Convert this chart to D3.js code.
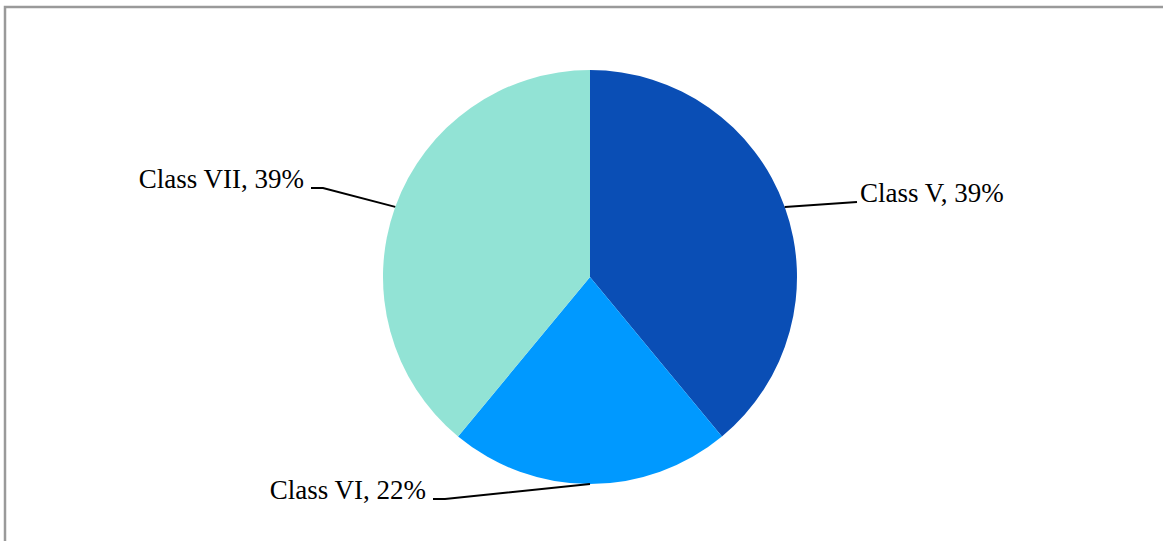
<!DOCTYPE html>
<html>
<head>
<meta charset="utf-8">
<script src="https://cdn.jsdelivr.net/npm/d3@7"></script>
<style>
  html, body { margin: 0; padding: 0; background: #fff; }
  svg { display: block; }
</style>
</head>
<body>
<svg id="chart" width="1163" height="541"></svg>
<script>
// Share of pupils by class
const categories = ["Class V", "Class VI", "Class VII"];
const shares = [39, 22, 39];
const colors = ["#0a4eb5", "#0099ff", "#92e3d5"];

// Label anchor offsets from the pie centre (elbow point of each leader line)
const labelOffsets = [
  { dx: 267, dy: -75, side: "right" },
  { dx: -145, dy: 222, side: "left" },
  { dx: -267, dy: -89, side: "left" }
];

const width = 1163, height = 541;
const cx = 590, cy = 277, radius = 207;

const svg = d3.select("#chart");

// Outer frame
svg.append("rect")
  .attr("x", 5).attr("y", 7)
  .attr("width", width + 20).attr("height", height + 20)
  .attr("fill", "none")
  .attr("stroke", "#9a9a9a")
  .attr("stroke-width", 2.5);

const data = categories.map((c, i) => ({ name: c, value: shares[i], color: colors[i], off: labelOffsets[i] }));

const pie = d3.pie().value(d => d.value).sort(null);
const arc = d3.arc().innerRadius(0).outerRadius(radius);
const arcs = pie(data);

const g = svg.append("g").attr("transform", `translate(${cx},${cy})`);

g.selectAll("path.slice")
  .data(arcs)
  .join("path")
  .attr("class", "slice")
  .attr("d", arc)
  .attr("fill", d => d.data.color);

// Leader lines from the arc midpoint to the label
function edgePoint(d) {
  const a = (d.startAngle + d.endAngle) / 2;
  return [radius * Math.sin(a), -radius * Math.cos(a)];
}

g.selectAll("polyline.leader")
  .data(arcs)
  .join("polyline")
  .attr("class", "leader")
  .attr("fill", "none")
  .attr("stroke", "#000")
  .attr("stroke-width", 2)
  .attr("points", d => {
    const p = edgePoint(d);
    const o = d.data.off;
    const tail = o.side === "right" ? 0 : -12;
    return [p, [o.dx, o.dy], [o.dx + tail, o.dy]].map(q => q.join(",")).join(" ");
  });

g.selectAll("text.label")
  .data(arcs)
  .join("text")
  .attr("class", "label")
  .attr("x", d => d.data.off.side === "right" ? d.data.off.dx + 3 : d.data.off.dx - 19)
  .attr("y", d => d.data.off.dy)
  .attr("text-anchor", d => d.data.off.side === "right" ? "start" : "end")
  .attr("font-family", "'Liberation Serif', 'Times New Roman', serif")
  .attr("font-size", 27)
  .attr("fill", "#000")
  .text(d => `${d.data.name}, ${d.data.value}%`);
</script>
</body>
</html>
